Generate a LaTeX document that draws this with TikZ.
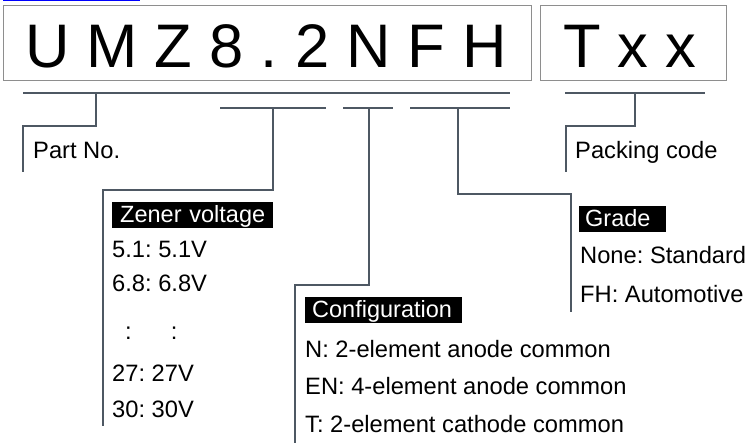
\documentclass[tikz,border=0pt]{standalone}
\usepackage{fontspec}
\setmainfont{Liberation Sans}
\frenchspacing
\definecolor{linec}{HTML}{4E5863}
\definecolor{boxc}{HTML}{8E8E8E}
\begin{document}
\begin{tikzpicture}[x=1pt,y=-1pt,
  conn/.style={draw=linec,line width=1.8pt},
  frame/.style={draw=boxc,line width=1pt},
  big/.style={anchor=base west,inner sep=0pt,font=\fontsize{61.5}{70}\selectfont},
  tag/.style={anchor=south west,fill=black,text=white,inner ysep=0pt,align=left,
    text height=21pt,text depth=5pt,font=\fontsize{23.5}{26}\selectfont},
  item/.style={anchor=base west,inner sep=0pt,font=\fontsize{23.7}{26}\selectfont}]
\useasboundingbox (0,0) rectangle (748,443);
% top link underline
\coordinate (l1) at (3,0.7); \coordinate (l2) at (140,0.7);
\draw[blue,line width=1.4pt] (l1) -- (l2);
% boxes
\draw[frame] (3,6) rectangle (531,81);
\draw[frame] (540,6) rectangle (726,81);
\node[big] (pn) at (25,68) {U M Z 8 . 2 N F H};
\node[big] (pk) at (563,68) {T x x};
% Part No.
\coordinate (a1) at (23,93); \coordinate (a2) at (510,93);
\coordinate (a3) at (96,93); \coordinate (a4) at (23,126); \coordinate (a5) at (23,172);
\draw[conn] (a1) -- (a2);
\draw[conn] (a3) |- (a4) -- (a5);
\node[item] (partno) at (33,159) {Part No.};
% Packing code
\coordinate (p1) at (565,93); \coordinate (p2) at (705,93);
\coordinate (p3) at (635,93); \coordinate (p4) at (566,126); \coordinate (p5) at (566,172);
\draw[conn] (p1) -- (p2);
\draw[conn] (p3) |- (p4) -- (p5);
\node[item] (packing) at (575,159) {Packing code};
% Zener voltage
\coordinate (z1) at (220,108); \coordinate (z2) at (326,108);
\coordinate (z3) at (273,108); \coordinate (z4) at (103,190); \coordinate (z5) at (103,426);
\draw[conn] (z1) -- (z2);
\draw[conn] (z3) |- (z4) -- (z5);
\node[tag,inner xsep=8pt,text width=145pt] (zv) at (112,228) {Zener voltage};
\node[item] (z51) at (112,258) {5.1: 5.1V};
\node[item] (z68) at (112,292) {6.8: 6.8V};
\node[item] (zdots) at (112,340) {\hspace{13pt}:\hspace{39pt}:};
\node[item] (z27) at (112,382) {27: 27V};
\node[item] (z30) at (112,418) {30: 30V};
% Configuration
\coordinate (c1) at (343,108); \coordinate (c2) at (393,108);
\coordinate (c3) at (369,108); \coordinate (c4) at (295,285); \coordinate (c5) at (295,443);
\draw[conn] (c1) -- (c2);
\draw[conn] (c3) |- (c4) -- (c5);
\node[tag,inner xsep=7pt,text width=143pt] (cf) at (305,323) {Configuration};
\node[item] (cn) at (305,358) {N: 2-element anode common};
\node[item] (cen) at (305,395) {EN: 4-element anode common};
\node[item] (ct) at (305,433) {T: 2-element cathode common};
% Grade
\coordinate (g1) at (410,108); \coordinate (g2) at (510,108);
\coordinate (g3) at (458,108); \coordinate (g4) at (571,194); \coordinate (g5) at (571,312);
\draw[conn] (g1) -- (g2);
\draw[conn] (g3) |- (g4) -- (g5);
\node[tag,inner xsep=6pt,text width=75pt] (gr) at (579,232) {Grade};
\node[item] (gn) at (580,264) {None: Standard};
\node[item] (gf) at (580,303) {FH: Automotive};
\end{tikzpicture}
\end{document}
